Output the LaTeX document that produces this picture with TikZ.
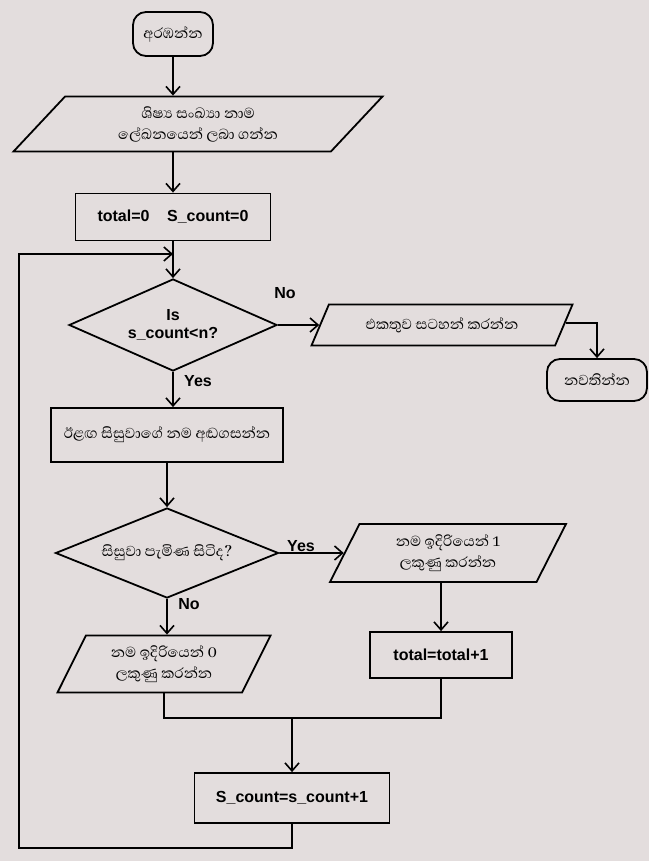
\documentclass[tikz,border=0pt]{standalone}
\usepackage{fontspec}
\setmainfont{Liberation Sans}
\newfontfamily\sinhalafont[Script=Sinhala]{Abhaya Libre}
\usetikzlibrary{shapes.geometric,arrows.meta,calc}
\definecolor{bg}{RGB}{227,221,221}
\begin{document}
\begin{tikzpicture}[x=1pt,y=-1pt,
  line/.style={line width=1.8pt},
  arr/.style={line width=1.8pt,-{Straight Barb[length=8pt,width=14pt,line width=1.6pt]}},
  base/.style={draw,line width=1.8pt,fill=bg,inner sep=1pt,align=center},
  si/.style={font=\sinhalafont\fontsize{18.5}{21}\selectfont},
  la/.style={font=\bfseries\fontsize{16}{18}\selectfont},
  term/.style={base,rounded corners=13pt},
  proc/.style={base,rectangle},
  dec/.style={base,diamond,inner sep=0pt},
  io/.style={base,trapezium,trapezium stretches body},
  lab/.style={font=\bfseries\fontsize{16}{18}\selectfont,inner sep=0pt}]
\fill[bg] (0,0) rectangle (649,861);
\useasboundingbox (0,0) rectangle (649,861);

\node[term,si,minimum width=80pt,minimum height=44pt] (start) at (173,34) {අරඹන්න};
\node[io,si,trapezium left angle=36,trapezium right angle=144,minimum width=369pt,minimum height=55pt] (p1) at (198,124) {ශිෂ්‍ය සංඛ්‍යා නාම\\ලේඛනයෙන් ලබා ගන්න};
\node[proc,la,minimum width=195pt,minimum height=47pt] (b1) at (173,217) {total=0\hspace{1.1em}S\_count=0};
\node[dec,la,minimum width=208pt,minimum height=92pt,aspect=2.26] (d1) at (173,325) {Is\\s\_count<n?};
\node[io,si,trapezium left angle=45,trapezium right angle=135,minimum width=261pt,minimum height=41pt] (pE) at (442,325) {එකතුව සටහන් කරන්න};
\node[term,si,minimum width=100pt,minimum height=42pt] (stop) at (597,380) {නවතින්න};
\node[proc,si,minimum width=232pt,minimum height=54pt] (b2) at (167,435) {ඊළඟ සිසුවාගේ නම අඬගසන්න};
\node[dec,si,minimum width=223pt,minimum height=90pt,aspect=2.48] (d2) at (167,553) {සිසුවා පැමිණ සිටිද?};
\node[io,si,trapezium left angle=53,trapezium right angle=127,minimum width=236pt,minimum height=58pt] (pY) at (448,553) {නම ඉදිරියෙන් 1\\ලකුණු කරන්න};
\node[proc,la,minimum width=142pt,minimum height=46pt] (bT) at (441,655) {total=total+1};
\node[io,si,trapezium left angle=54,trapezium right angle=126,minimum width=213pt,minimum height=57pt] (pN) at (164,664) {නම ඉදිරියෙන් 0\\ලකුණු කරන්න};
\node[proc,la,minimum width=195pt,minimum height=50pt] (bS) at (292,798) {S\_count=s\_count+1};

\node[lab] (no1) at (285,293) {No};
\node[lab] (yes1) at (198,381) {Yes};
\node[lab] (yes2) at (301,546) {Yes};
\node[lab] (no2) at (189,604) {No};

\draw[arr] (start) -- (start |- p1.north);
\draw[arr] (b1 |- p1.south) -- (b1);
\draw[arr] (b1) -- (d1);
\draw[arr] (d1.east) -- (pE);
\coordinate (pEs) at ($(pE.top right corner)!0.45!(pE.bottom right corner)$);
\draw[arr] (pEs) -| (stop.north);
\draw[arr] (d1.south) -- (d1.south |- b2.north);
\draw[arr] (d2 |- b2.south) -- (d2);
\draw[arr] (d2.east) -- (pY);
\draw[arr] (d2.south) -- (d2.south |- pN.north);
\draw[arr] (bT |- pY.south) -- (bT);
\coordinate (ml) at (pN.south |- 0,718);
\coordinate (mr) at (bT.south |- 0,718);
\draw[line] (pN.south) -- (ml) -- (mr) -- (bT.south);
\draw[arr] (bS.north |- ml) -- (bS);
\coordinate (lb) at (bS.south |- 0,848);
\coordinate (lbl) at (19,848);
\coordinate (ltl) at (19,254);
\coordinate (lt) at (b1.south |- 0,254);
\draw[arr] (bS) -- (lb) -- (lbl) -- (ltl) -- (lt);
\end{tikzpicture}
\end{document}
